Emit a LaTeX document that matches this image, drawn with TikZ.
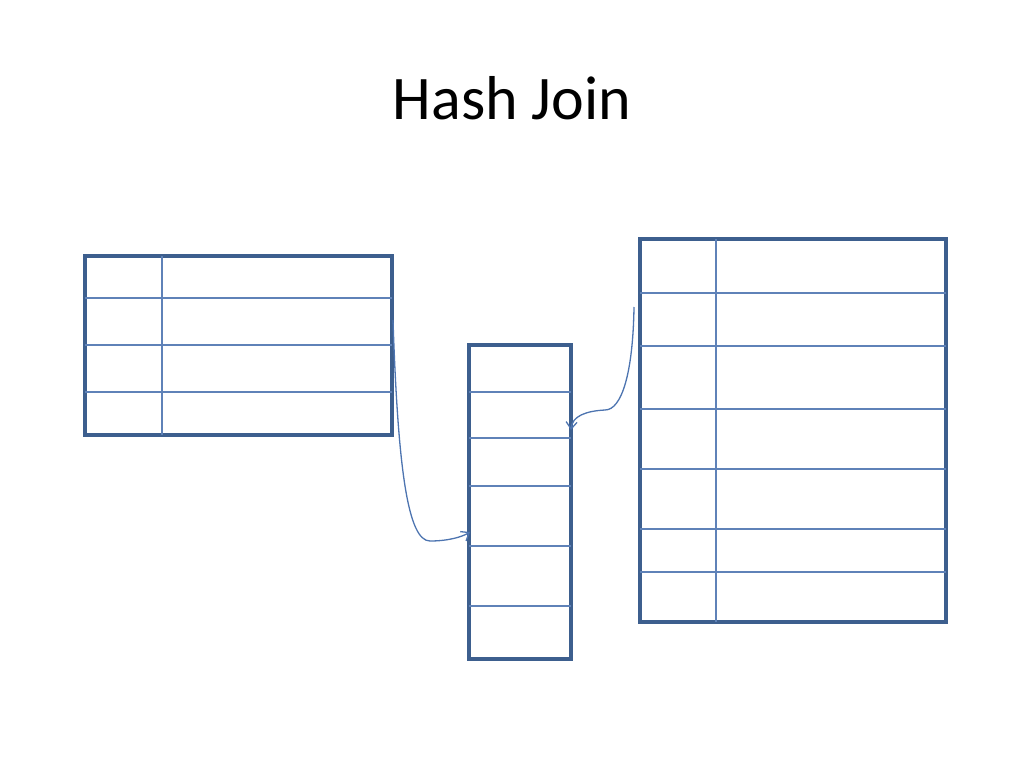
\documentclass[tikz,border=0pt]{standalone}
\usepackage{fontspec}
\setmainfont{Carlito}
\usetikzlibrary{arrows.meta}
\definecolor{boxblue}{HTML}{3D5F8E}
\definecolor{rowblue}{HTML}{5F82B8}
\definecolor{linkblue}{HTML}{4D74B0}
\tikzset{
  tablebox/.style={draw=boxblue, line width=3.2pt, inner sep=0pt},
  rowline/.style={rowblue, line width=1.1pt},
  link/.style={linkblue, line width=1.3pt, -{Straight Barb[length=7pt, width=11pt]}}
}
\begin{document}
\begin{tikzpicture}[x=1pt, y=-1pt]
    \useasboundingbox (0,0) rectangle (1024,768);

    % Title
    \node[font=\fontsize{62}{70}\selectfont] (title) at (512,98) {Hash Join};

    % Build table
    \node[tablebox, minimum width=307pt, minimum height=179pt] (build) at (238.5,345.5) {};
    \draw[rowline] (162,256) -- (162,435);
    \foreach \y in {298,345,392}
        \draw[rowline] (85,\y) -- (392,\y);

    % Hash table
    \node[tablebox, minimum width=102pt, minimum height=314pt] (hash) at (520,502) {};
    \foreach \y in {392,438,486,546,606}
        \draw[rowline] (469,\y) -- (571,\y);

    % Probe table
    \node[tablebox, minimum width=306pt, minimum height=383pt] (probe) at (793,430.5) {};
    \draw[rowline] (716,239) -- (716,622);
    \foreach \y in {293,346,409,469,529,572}
        \draw[rowline] (640,\y) -- (946,\y);

    % Links into the hash table
    \coordinate (buildout) at (393,320);
    \coordinate (hashin) at (470,532);
    \coordinate (probeout) at (634,307);
    \coordinate (hashhit) at (571,430);
    \draw[link] (buildout) .. controls (398,470) and (408,541) .. (430,541)
        .. controls (448,541) and (462,537) .. (hashin);
    \draw[link] (probeout) .. controls (633,372) and (622,410) .. (605,410)
        .. controls (586,411) and (572,416) .. (hashhit);
\end{tikzpicture}
\end{document}
